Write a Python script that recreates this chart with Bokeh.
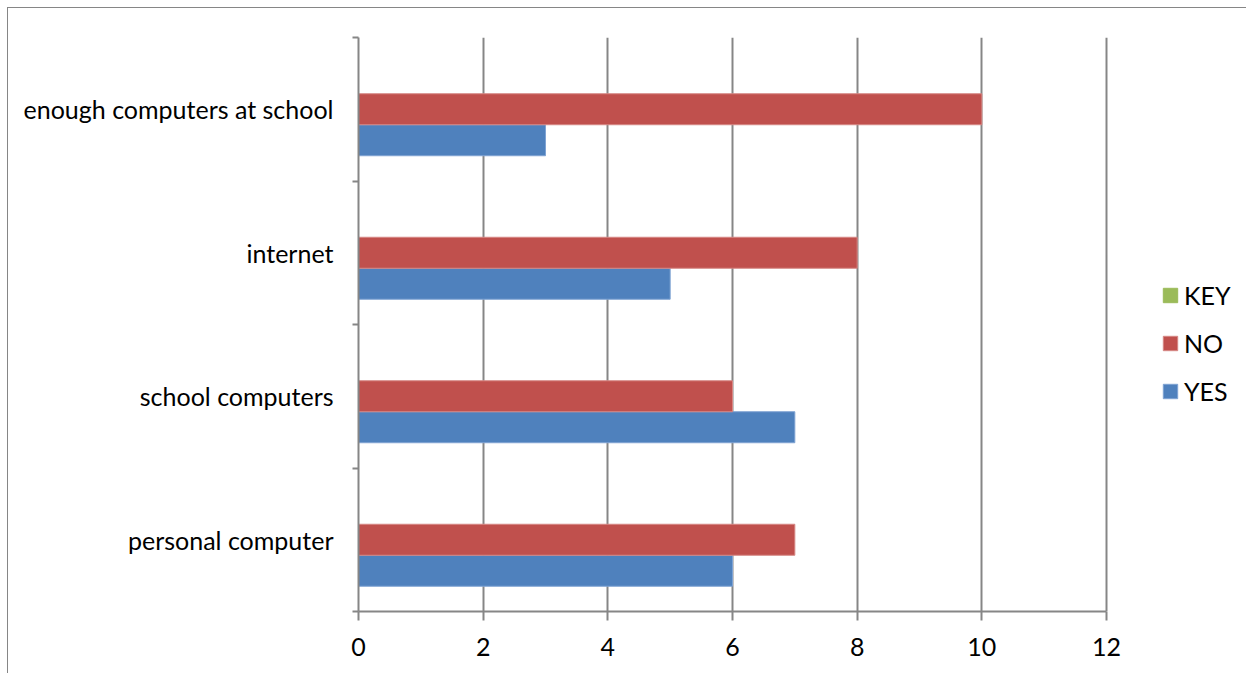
from bokeh.plotting import figure
from bokeh.models import FixedTicker, Legend, LegendItem, ColumnDataSource
from bokeh.embed import file_html
from bokeh.resources import INLINE

# Survey answers per question
categories = ["personal computer", "school computers", "internet",
              "enough computers at school"]
yes_values = [6, 7, 5, 3]
no_values = [7, 6, 8, 10]
key_values = [0, 0, 0, 0]
x_ticks = [0, 2, 4, 6, 8, 10, 12]

GRID = "#868686"
FONT = "Lato"
FONT_SIZE = "25px"
BAR_H = 0.216

centers = [i + 0.5 for i in range(len(categories))]

# the plot area keeps going to the right edge so the key fits inside it;
# axis and grid stop at 12
p = figure(width=1239, height=666, output_backend="svg", toolbar_location=None,
           x_range=(0, 14.262), y_range=(0, len(categories)),
           min_border_left=350, min_border_right=0,
           min_border_top=29, min_border_bottom=63)
p.margin = (7, 0, 0, 7)
p.styles = {"border-top": f"1px solid {GRID}", "border-left": f"1px solid {GRID}"}
p.outline_line_color = None
p.background_fill_color = "white"
p.border_fill_color = "white"

src = ColumnDataSource(dict(
    y_yes=[c - BAR_H for c in centers],
    y_no=centers,
    y_key=[c + BAR_H for c in centers],
    yes=yes_values, no=no_values, key=key_values))

r_yes = p.hbar(y="y_yes", right="yes", left=0, height=BAR_H, source=src,
               fill_color="#4F81BD", line_color="#7FA3D3", line_width=1)
r_no = p.hbar(y="y_no", right="no", left=0, height=BAR_H, source=src,
              fill_color="#C0504D", line_color="#D68784", line_width=1)
r_key = p.hbar(y="y_key", right="key", left=0, height=BAR_H, source=src,
               fill_color="#9BBB59", line_color="#9BBB59", line_width=1)

# x axis
p.xaxis.ticker = FixedTicker(ticks=x_ticks)
p.xaxis.bounds = (0, 12)
p.xaxis.axis_line_color = GRID
p.xaxis.axis_line_width = 2
p.xaxis.major_tick_line_color = GRID
p.xaxis.major_tick_line_width = 2
p.xaxis.major_tick_out = 9
p.xaxis.major_tick_in = 0
p.xaxis.minor_tick_line_color = None
p.xaxis.major_label_text_font = FONT
p.xaxis.major_label_text_font_size = FONT_SIZE
p.xaxis.major_label_text_color = "black"
p.xaxis.major_label_standoff = 17

# y axis: labels at band centres, tick marks at band edges
p.yaxis.ticker = FixedTicker(ticks=centers,
                             minor_ticks=list(range(len(categories) + 1)))
p.yaxis.major_label_overrides = {c: name for c, name in zip(centers, categories)}
p.yaxis.axis_line_color = GRID
p.yaxis.axis_line_width = 2
p.yaxis.major_tick_line_color = None
p.yaxis.major_tick_out = 0
p.yaxis.major_tick_in = 0
p.yaxis.minor_tick_line_color = GRID
p.yaxis.minor_tick_line_width = 2
p.yaxis.minor_tick_out = 6
p.yaxis.minor_tick_in = 0
p.yaxis.major_label_text_font = FONT
p.yaxis.major_label_text_font_size = FONT_SIZE
p.yaxis.major_label_text_color = "black"
p.yaxis.major_label_standoff = 19

p.xgrid.ticker = FixedTicker(ticks=x_ticks)
p.xgrid.bounds = (0, 12)
p.xgrid.grid_line_color = GRID
p.xgrid.grid_line_width = 2
p.ygrid.grid_line_color = None

legend = Legend(items=[LegendItem(label="KEY", renderers=[r_key]),
                       LegendItem(label="NO", renderers=[r_no]),
                       LegendItem(label="YES", renderers=[r_yes])],
                location=(803, 205), orientation="vertical",
                glyph_width=18, glyph_height=18, label_height=14,
                spacing=18, padding=0, margin=0, label_standoff=5,
                border_line_color=None, background_fill_alpha=0,
                label_text_font=FONT, label_text_font_size=FONT_SIZE,
                label_text_color="black")
p.add_layout(legend, "center")

open("out.html", "w").write(file_html(p, INLINE))
